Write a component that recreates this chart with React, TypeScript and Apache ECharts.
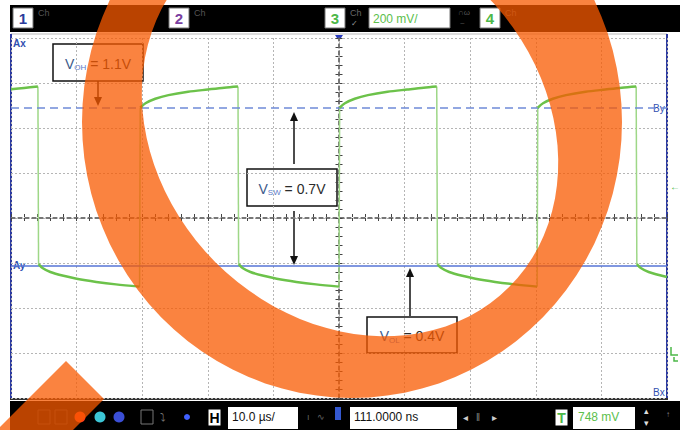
import React, { useEffect, useRef } from "react";
import * as echarts from "echarts";

// Horizontal scale: 10 µs/div, 10 divisions, trigger at centre
const timeMin = -50;
const timeMax = 50;
const timeStep = 10;
// Vertical scale: 200 mV/div, 8 divisions, ground marker two divisions above bottom
const voltMin = -0.2;
const voltMax = 1.4;
const voltStep = 0.2;

// Channel 3 trace (time µs, volts), one array per flat segment
const high1 = [[-50, 1.172], [-48, 1.178], [-45.9, 1.184]];
const low1 = [[-45.8, 0.395], [-45.2, 0.378], [-44, 0.36], [-42, 0.343], [-40, 0.33], [-37, 0.316], [-34, 0.305], [-30.4, 0.295]];
const high2 = [[-30.3, 1.09], [-29.5, 1.11], [-28, 1.13], [-26, 1.146], [-23, 1.161], [-20, 1.171], [-17.5, 1.179], [-15.4, 1.184]];
const low2 = [[-15.3, 0.395], [-14.7, 0.378], [-13.5, 0.36], [-11.5, 0.343], [-9.5, 0.33], [-6.5, 0.316], [-3.5, 0.305], [0, 0.295]];
const high3 = [[0.1, 1.09], [0.9, 1.11], [2.4, 1.13], [4.4, 1.146], [7.4, 1.161], [10.4, 1.171], [12.9, 1.179], [14.9, 1.184]];
const low3 = [[15.0, 0.395], [15.6, 0.378], [16.8, 0.36], [18.8, 0.343], [20.8, 0.33], [23.8, 0.316], [26.8, 0.305], [30.2, 0.295]];
const high4 = [[30.3, 1.09], [31.1, 1.11], [32.6, 1.13], [34.6, 1.146], [37.6, 1.161], [40.6, 1.171], [43.1, 1.179], [45.3, 1.184]];
const low4 = [[45.4, 0.395], [46.0, 0.378], [47.2, 0.36], [50, 0.338]];
const traceSegments = [high1, low1, high2, low2, high3, low3, high4, low4];

// Cursors and trigger level (volts)
const cursorBy = 1.089;
const cursorAy = 0.39;
const triggerLevel = 0.748;

// UI texts
const voltsPerDiv = "200 mV/";
const timePerDiv = "10.0 µs/";
const delayText = "111.0000 ns";
const triggerText = "748 mV";

const FONT = '"Liberation Sans", Arial, sans-serif';
const ORANGE = "rgba(248, 90, 0, 0.75)";

// Overlay ring outline, built as polygons (outer clockwise, inner counter-clockwise)
function ellipsePath(cx: number, cy: number, rx: number, ry: number, rotDeg: number, reverse: boolean) {
  const n = 96;
  const r = (rotDeg * Math.PI) / 180;
  const pts: string[] = [];
  for (let i = 0; i < n; i++) {
    const t = ((reverse ? -i : i) / n) * Math.PI * 2;
    const ex = rx * Math.cos(t);
    const ey = ry * Math.sin(t);
    const x = cx + ex * Math.cos(r) - ey * Math.sin(r);
    const y = cy + ex * Math.sin(r) + ey * Math.cos(r);
    pts.push(`${i === 0 ? "M" : "L"} ${x.toFixed(1)} ${y.toFixed(1)}`);
  }
  return pts.join(" ") + " Z";
}
const ringPath = ellipsePath(352, 122, 270, 276, 0, false) + " " + ellipsePath(350, 128, 225, 190, 45, true);

let registered = false;
function registerShapes() {
  if (registered) return;
  echarts.graphic.registerShape("orangeRing", echarts.graphic.extendPath(ringPath, {}));
  registered = true;
}

function chBox(x: number, label: string, color: string) {
  return [
    { type: "rect", shape: { x, y: 8, width: 20, height: 20 }, style: { fill: "#fff", stroke: "#777", lineWidth: 1 } },
    { type: "text", x: x + 10, y: 18.5, style: { text: label, fill: color, font: `bold 15px ${FONT}`, align: "center", verticalAlign: "middle" } },
    { type: "text", x: x + 25, y: 8, style: { text: "Ch", fill: "#555", font: `9px ${FONT}` } },
  ];
}

function annot(x: number, y: number, w: number, h: number, sub: string, rest: string) {
  return [
    { type: "rect", shape: { x, y, width: w, height: h }, style: { fill: "#fff", stroke: "#111", lineWidth: 1.5 } },
    {
      type: "text",
      x: x + w / 2,
      y: y + h / 2 + 1,
      style: {
        text: `{v|V}{s|${sub}}{t|${rest}}`,
        align: "center",
        verticalAlign: "middle",
        rich: {
          v: { fontSize: 14, fontFamily: FONT, fill: "#3d5a8a", lineHeight: 16 },
          s: { fontSize: 8, fontFamily: FONT, fill: "#5a7ac8", lineHeight: 8, verticalAlign: "bottom" },
          t: { fontSize: 14, fontFamily: FONT, fill: "#2b2b2b", lineHeight: 16 },
        },
      },
    },
  ];
}

function arrow(x: number, y1: number, y2: number) {
  const dir = y2 > y1 ? 1 : -1;
  return [
    { type: "line", shape: { x1: x, y1, x2: x, y2: y2 - dir * 7 }, style: { stroke: "#111", lineWidth: 1.5 } },
    { type: "polygon", shape: { points: [[x - 4, y2 - dir * 9], [x + 4, y2 - dir * 9], [x, y2]] }, style: { fill: "#111" } },
  ];
}

export default function App() {
  const ref = useRef<HTMLDivElement>(null);
  useEffect(() => {
    if (!ref.current) return;
    registerShapes();
    const chart = echarts.init(ref.current, undefined, { renderer: "svg" });

    const flatSeries = traceSegments.map((seg, i) => ({
      type: "line",
      xAxisIndex: 0,
      yAxisIndex: 0,
      data: seg,
      showSymbol: false,
      symbol: "none",
      smooth: 0.3,
      lineStyle: { color: "#6cc24a", width: 2.5 },
      z: 5,
      markLine:
        i === 0
          ? {
              silent: true,
              symbol: "none",
              label: { show: false },
              data: [
                { yAxis: cursorBy, lineStyle: { color: "#6f8ad8", type: [8, 5], width: 1.5 } },
                { yAxis: cursorAy, lineStyle: { color: "#5675d6", type: "solid", width: 1.5 } },
              ],
            }
          : undefined,
    }));
    const edgeSeries = traceSegments.slice(1).map((seg, i) => ({
      type: "line",
      xAxisIndex: 0,
      yAxisIndex: 0,
      data: [traceSegments[i][traceSegments[i].length - 1], seg[0]],
      showSymbol: false,
      symbol: "none",
      lineStyle: { color: "#9ed787", width: 1.5 },
      z: 4,
    }));

    const centerAxisCommon = {
      axisLabel: { show: false },
      splitLine: { show: false },
      axisLine: { show: true, onZero: false, lineStyle: { color: "#777", type: [4, 3], width: 1 } },
      axisTick: { show: true, length: 3, inside: false, lineStyle: { color: "#444" } },
      minorTick: { show: true, splitNumber: 5, length: 3, lineStyle: { color: "#444" } },
    };

    const graphics: any[] = [
      // top bar
      { type: "rect", shape: { x: 10, y: 5, width: 670, height: 27 }, style: { fill: "#000" } },
      ...chBox(13, "1", "#2a3b9c"),
      ...chBox(169, "2", "#7a3fa0"),
      { type: "rect", shape: { x: 325, y: 8, width: 20, height: 20 }, style: { fill: "#fff", stroke: "#777", lineWidth: 1 } },
      { type: "text", x: 335, y: 18.5, style: { text: "3", fill: "#4cb848", font: `bold 15px ${FONT}`, align: "center", verticalAlign: "middle" } },
      { type: "text", x: 350, y: 8, style: { text: "Ch", fill: "#666", font: `9px ${FONT}` } },
      { type: "text", x: 351, y: 19, style: { text: "✓", fill: "#999", font: `8px ${FONT}` } },
      { type: "rect", shape: { x: 369, y: 8, width: 81, height: 20 }, style: { fill: "#fff", stroke: "#777", lineWidth: 1 } },
      { type: "text", x: 373, y: 18.5, style: { text: voltsPerDiv, fill: "#5cc04c", font: `12px ${FONT}`, verticalAlign: "middle" } },
      { type: "text", x: 458, y: 8, style: { text: "∩ω", fill: "#555", font: `8px ${FONT}` } },
      { type: "text", x: 460, y: 19, style: { text: "~", fill: "#555", font: `8px ${FONT}` } },
      { type: "rect", shape: { x: 480, y: 8, width: 20, height: 20 }, style: { fill: "#fff", stroke: "#777", lineWidth: 1 } },
      { type: "text", x: 490, y: 18.5, style: { text: "4", fill: "#4cb848", font: `bold 15px ${FONT}`, align: "center", verticalAlign: "middle" } },
      { type: "text", x: 505, y: 8, style: { text: "Ch", fill: "#555", font: `9px ${FONT}` } },

      // plot frame
      { type: "line", shape: { x1: 11, y1: 34, x2: 667, y2: 34 }, style: { stroke: "#bbb", lineWidth: 1 } },
      { type: "line", shape: { x1: 11, y1: 34, x2: 11, y2: 399 }, style: { stroke: "#2d3a9f", lineWidth: 2 } },
      { type: "line", shape: { x1: 667, y1: 34, x2: 667, y2: 399 }, style: { stroke: "#2d3a9f", lineWidth: 2 } },
      { type: "line", shape: { x1: 10, y1: 399, x2: 668, y2: 399 }, style: { stroke: "#333", lineWidth: 2 } },
      { type: "polygon", shape: { points: [[335, 35], [343, 35], [339, 41]] }, style: { fill: "#2a3cc0" } },

      // cursor labels
      { type: "text", x: 13, y: 38, style: { text: "Ax", fill: "#3050b0", font: `bold 10px ${FONT}` } },
      { type: "text", x: 13, y: 265.5, style: { text: "Ay", fill: "#3050b0", font: `bold 10px ${FONT}`, verticalAlign: "middle", backgroundColor: "#fff" } },
      { type: "text", x: 653, y: 108.5, style: { text: "By", fill: "#3050b0", font: `10px ${FONT}`, verticalAlign: "middle", backgroundColor: "#fff" } },
      { type: "text", x: 653, y: 392, style: { text: "Bx", fill: "#3050b0", font: `10px ${FONT}`, verticalAlign: "middle", backgroundColor: "#fff" } },

      // right-hand markers
      { type: "text", x: 670, y: 186, style: { text: "←", fill: "#4cb848", font: `bold 10px ${FONT}`, verticalAlign: "middle" } },
      { type: "polyline", shape: { points: [[671, 347], [671, 355], [678, 355]] }, style: { stroke: "#4cb848", lineWidth: 1.5, fill: "none" } },
      { type: "polyline", shape: { points: [[674, 357], [674, 361], [678, 361]] }, style: { stroke: "#4cb848", lineWidth: 1.5, fill: "none" } },

      // annotations
      ...annot(53, 44, 90, 37, "OH", " = 1.1V"),
      ...arrow(98, 81, 106),
      ...annot(247, 169, 90, 37, "SW", " = 0.7V"),
      ...arrow(294, 164, 112),
      ...arrow(294, 211, 265),
      ...annot(367, 317, 90, 36, "OL", " = 0.4V"),
      ...arrow(410, 316, 268),

      // bottom bar
      { type: "rect", shape: { x: 10, y: 401, width: 670, height: 29 }, style: { fill: "#000" } },
      { type: "rect", shape: { x: 38, y: 410, width: 12, height: 14 }, style: { fill: "none", stroke: "#333", lineWidth: 1 } },
      { type: "rect", shape: { x: 55, y: 410, width: 12, height: 14 }, style: { fill: "none", stroke: "#333", lineWidth: 1 } },
      { type: "circle", shape: { cx: 80, cy: 417, r: 5.5 }, style: { fill: "#ff3a1a" } },
      { type: "circle", shape: { cx: 100, cy: 417, r: 5.5 }, style: { fill: "#3cc6d6" } },
      { type: "circle", shape: { cx: 119, cy: 417, r: 5.5 }, style: { fill: "#3b4fd6" } },
      { type: "rect", shape: { x: 141, y: 410, width: 12, height: 14 }, style: { fill: "none", stroke: "#777", lineWidth: 1 } },
      { type: "text", x: 160, y: 417, style: { text: "⤵", fill: "#777", font: `11px ${FONT}`, verticalAlign: "middle" } },
      { type: "circle", shape: { cx: 187, cy: 417, r: 3 }, style: { fill: "#4060ff" } },
      { type: "rect", shape: { x: 208, y: 409, width: 13, height: 17 }, style: { fill: "#fff", stroke: "#000", lineWidth: 1 } },
      { type: "text", x: 214.5, y: 418, style: { text: "H", fill: "#000", font: `bold 14px ${FONT}`, align: "center", verticalAlign: "middle" } },
      { type: "rect", shape: { x: 228, y: 407, width: 70, height: 22 }, style: { fill: "#fff" } },
      { type: "text", x: 232, y: 417, style: { text: timePerDiv, fill: "#111", font: `12px ${FONT}`, verticalAlign: "middle" } },
      { type: "text", x: 307, y: 417, style: { text: "ı", fill: "#666", font: `9px ${FONT}`, verticalAlign: "middle" } },
      { type: "text", x: 317, y: 417, style: { text: "∿", fill: "#666", font: `9px ${FONT}`, verticalAlign: "middle" } },
      { type: "rect", shape: { x: 335, y: 407, width: 6, height: 13 }, style: { fill: "#3458d0" } },
      { type: "rect", shape: { x: 350, y: 407, width: 107, height: 22 }, style: { fill: "#fff" } },
      { type: "text", x: 354, y: 417, style: { text: delayText, fill: "#111", font: `12px ${FONT}`, verticalAlign: "middle" } },
      { type: "text", x: 463, y: 417, style: { text: "◂", fill: "#ccc", font: `10px ${FONT}`, verticalAlign: "middle" } },
      { type: "text", x: 476, y: 417, style: { text: "‖", fill: "#888", font: `10px ${FONT}`, verticalAlign: "middle" } },
      { type: "text", x: 492, y: 417, style: { text: "▸", fill: "#ccc", font: `10px ${FONT}`, verticalAlign: "middle" } },
      { type: "rect", shape: { x: 555, y: 409, width: 13, height: 17 }, style: { fill: "#fff", stroke: "#000", lineWidth: 1 } },
      { type: "text", x: 561.5, y: 418, style: { text: "T", fill: "#4cb848", font: `bold 14px ${FONT}`, align: "center", verticalAlign: "middle" } },
      { type: "rect", shape: { x: 573, y: 407, width: 62, height: 22 }, style: { fill: "#fff" } },
      { type: "text", x: 578, y: 417, style: { text: triggerText, fill: "#5cc04c", font: `12px ${FONT}`, verticalAlign: "middle" } },
      { type: "text", x: 644, y: 411, style: { text: "▴", fill: "#ddd", font: `9px ${FONT}`, verticalAlign: "middle" } },
      { type: "text", x: 644, y: 423, style: { text: "▾", fill: "#ddd", font: `9px ${FONT}`, verticalAlign: "middle" } },
      { type: "text", x: 666, y: 414, style: { text: "↑", fill: "#888", font: `8px ${FONT}`, verticalAlign: "middle" } },

      // orange overlay
      { type: "orangeRing", x: 0, y: 0, scaleX: 1, scaleY: 1, style: { fill: ORANGE }, z: 200 },
      { type: "polygon", shape: { points: [[66, 361], [104, 399], [34, 469], [-4, 431]] }, style: { fill: ORANGE }, z: 200 },
    ];

    chart.setOption({
      animation: false,
      backgroundColor: "#fff",
      grid: [
        { left: 11, top: 38, width: 656, height: 360 },
        { left: 11, top: 217, width: 656, height: 1 },
        { left: 338.5, top: 38, width: 1, height: 360 },
      ],
      xAxis: [
        {
          type: "value", gridIndex: 0, min: timeMin, max: timeMax, interval: timeStep,
          axisLabel: { show: false }, axisTick: { show: false }, axisLine: { show: false },
          splitLine: { show: true, lineStyle: { color: "#b5b5b5", type: [2, 2], width: 1 } },
        },
        { type: "value", gridIndex: 1, min: timeMin, max: timeMax, interval: timeStep, position: "bottom", ...centerAxisCommon },
        { type: "value", gridIndex: 1, min: timeMin, max: timeMax, interval: timeStep, position: "top", ...centerAxisCommon },
        { type: "value", gridIndex: 2, min: 0, max: 1, show: false },
      ],
      yAxis: [
        {
          type: "value", gridIndex: 0, min: voltMin, max: voltMax, interval: voltStep,
          axisLabel: { show: false }, axisTick: { show: false }, axisLine: { show: false },
          splitLine: { show: true, lineStyle: { color: "#b5b5b5", type: [2, 2], width: 1 } },
        },
        { type: "value", gridIndex: 2, min: voltMin, max: voltMax, interval: voltStep, position: "left", ...centerAxisCommon },
        { type: "value", gridIndex: 2, min: voltMin, max: voltMax, interval: voltStep, position: "right", ...centerAxisCommon },
        { type: "value", gridIndex: 1, min: 0, max: 1, show: false },
      ],
      series: [...flatSeries, ...edgeSeries],
      graphic: graphics,
    });
    return () => chart.dispose();
  }, []);
  return <div ref={ref} style={{ position: "fixed", left: 0, top: 0, width: 680, height: 430 }} />;
}
